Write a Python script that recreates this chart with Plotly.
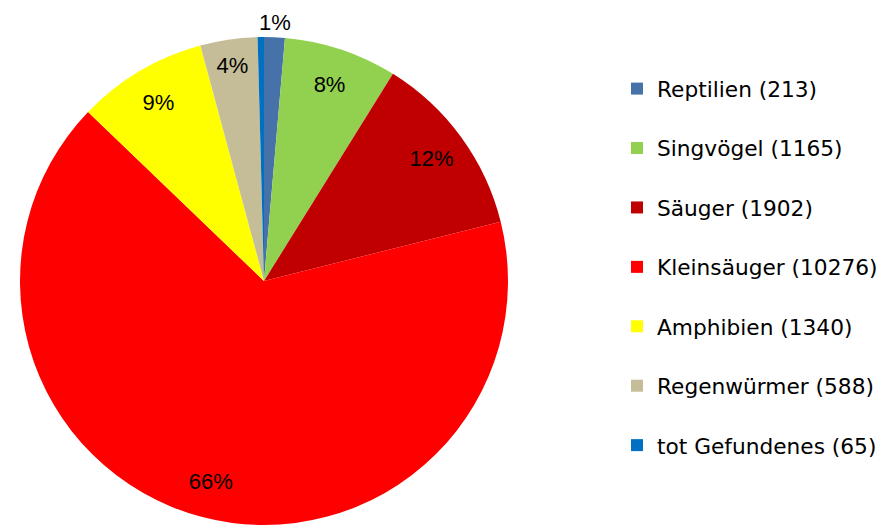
import math
import plotly.graph_objects as go

categories = ["Reptilien", "Singvögel", "Säuger", "Kleinsäuger", "Amphibien", "Regenwürmer", "tot Gefundenes"]
counts = [213, 1165, 1902, 10276, 1340, 588, 65]
pct_labels = ["1%", "8%", "12%", "66%", "9%", "4%", ""]
colors = ["#4672A9", "#92D050", "#C00000", "#FF0000", "#FFFF00", "#C4BD97", "#0070C0"]
# first label sits outside the pie (drawn as annotation), last one is hidden
label_pos = ["none", "inside", "inside", "inside", "inside", "inside", "none"]

legend_labels = [f"{c} ({n})<br> " for c, n in zip(categories, counts)]

# page body has an 8px margin; figure is sized to fit the 889x525 window
W, H = 881, 517
ml, mr, mt, mb = 12, 0, 29, 0
pw = W - ml - mr
ph = H - mt - mb
dom = dict(x=[0, ph / pw], y=[0, 1])

label_font = dict(family="Liberation Sans, Arial, sans-serif", size=22, color="black")

fig = go.Figure()
fig.add_trace(go.Pie(
    labels=legend_labels,
    values=counts,
    sort=False,
    direction="clockwise",
    rotation=0,
    marker=dict(colors=colors, line=dict(width=0)),
    textinfo="none",
    domain=dom,
    hoverinfo="label+value+percent",
))
# transparent ring overlay carrying the percentage labels (placed mid-ring)
fig.add_trace(go.Pie(
    labels=legend_labels,
    values=counts,
    sort=False,
    direction="clockwise",
    rotation=0,
    hole=0.7,
    marker=dict(colors=["rgba(0,0,0,0)"] * len(counts), line=dict(width=0)),
    text=pct_labels,
    textinfo="text",
    textposition=label_pos,
    insidetextorientation="horizontal",
    textfont=label_font,
    domain=dom,
    showlegend=False,
    hoverinfo="skip",
))

# outside label of the first (small) slice, placed along its mid-angle
total = sum(counts)
theta = 2 * math.pi * (counts[0] / 2) / total
R = ph / 2
lx = R + 1.06 * R * math.sin(theta)
ly = R - 1.06 * R * math.cos(theta)
fig.add_annotation(
    x=lx / pw, y=1 - ly / ph, xref="paper", yref="paper",
    text=pct_labels[0], showarrow=False, font=label_font,
    xanchor="center", yanchor="middle", borderpad=0,
)

fig.update_layout(
    width=W, height=H,
    margin=dict(l=ml, r=mr, t=mt, b=mb),
    paper_bgcolor="white",
    plot_bgcolor="white",
    showlegend=True,
    legend=dict(
        x=(609 - ml) / pw, xanchor="left",
        y=1 + (mt - 60) / ph, yanchor="top",
        font=dict(family="DejaVu Sans, sans-serif", size=21.7, color="black"),
        valign="top",
        bgcolor="rgba(0,0,0,0)",
    ),
)

fig.write_html("out.html")
